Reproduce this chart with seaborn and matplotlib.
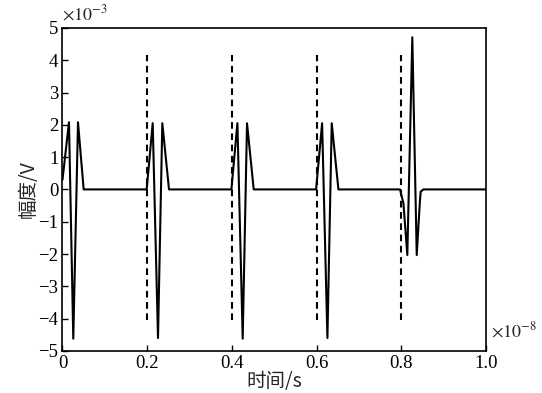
import matplotlib
matplotlib.use("Agg")
import matplotlib.pyplot as plt
import seaborn as sns
import pandas as pd

# Pulse train waveform: time in units of 1e-8 s, amplitude in units of 1e-3 V
time_1e8 = [0.000, 0.0153, 0.0255, 0.0366, 0.050,
            0.1988, 0.213, 0.2255, 0.2357, 0.2515,
            0.3988, 0.413, 0.4255, 0.4357, 0.4515,
            0.5988, 0.613, 0.6255, 0.6357, 0.6515,
            0.797, 0.805, 0.8142, 0.826, 0.8364, 0.844, 0.8458, 0.852,
            1.000]
amp_1e3 = [0.30, 2.08, -4.62, 2.08, 0.0,
           0.0, 2.05, -4.60, 2.05, 0.0,
           0.0, 2.05, -4.62, 2.05, 0.0,
           0.0, 2.05, -4.60, 2.05, 0.0,
           0.0, -0.43, -2.03, 4.71, -2.03, -0.35, -0.07, 0.0,
           0.0]

# Trigger markers (dashed verticals)
marker_times = [0.2, 0.4, 0.6, 0.8]
marker_low, marker_high = -4.05, 4.15

x_ticks = [0, 0.2, 0.4, 0.6, 0.8, 1.0]
x_tick_labels = ["0", "0.2", "0.4", "0.6", "0.8", "1.0"]
y_ticks = [-5, -4, -3, -2, -1, 0, 1, 2, 3, 4, 5]
y_tick_labels = ["\u22125", "\u22124", "\u22123", "\u22122", "\u22121", "0", "1", "2", "3", "4", "5"]

sns.set_style("ticks")
plt.rcParams["font.family"] = ["Liberation Serif", "Noto Sans CJK SC", "DejaVu Sans"]
plt.rcParams["mathtext.fontset"] = "stix"
plt.rcParams["xtick.direction"] = "in"
plt.rcParams["ytick.direction"] = "in"

fig = plt.figure(figsize=(5.42, 3.93), dpi=100)
ax = fig.add_axes([0.1153, 0.107, 0.7814, 0.822])

df = pd.DataFrame({"t": time_1e8, "a": amp_1e3})
sns.lineplot(data=df, x="t", y="a", ax=ax, color="black", linewidth=1.5,
             estimator=None, sort=False)

for mt in marker_times:
    ax.vlines(mt, marker_low, marker_high, colors="black", linewidth=1.5,
              linestyles=(0, (3.2, 2.2)))

ax.set_xlim(0, 1.0)
ax.set_ylim(-5, 5)
ax.set_xticks(x_ticks)
ax.set_xticklabels(x_tick_labels)
ax.set_yticks(y_ticks)
ax.set_yticklabels(y_tick_labels)
ax.tick_params(axis="both", labelsize=13.5, length=4, width=1.0, pad=3,
               top=False, right=False, colors="black")

for s in ax.spines.values():
    s.set_visible(True)
    s.set_linewidth(1.2)
    s.set_color("black")

ax.set_xlabel("时间/s", fontsize=14, family=["Noto Sans CJK SC"], labelpad=-1)
ax.set_ylabel("幅度/V", fontsize=14, family=["Noto Sans CJK SC"], labelpad=0)

ax.text(0.0, 1.012, r"$\times10^{-3}$", transform=ax.transAxes,
        fontsize=13, ha="left", va="bottom")
ax.text(1.012, 0.03, r"$\times10^{-8}$", transform=ax.transAxes,
        fontsize=13, ha="left", va="bottom")

fig.savefig("out.png", dpi=100, facecolor="white")
